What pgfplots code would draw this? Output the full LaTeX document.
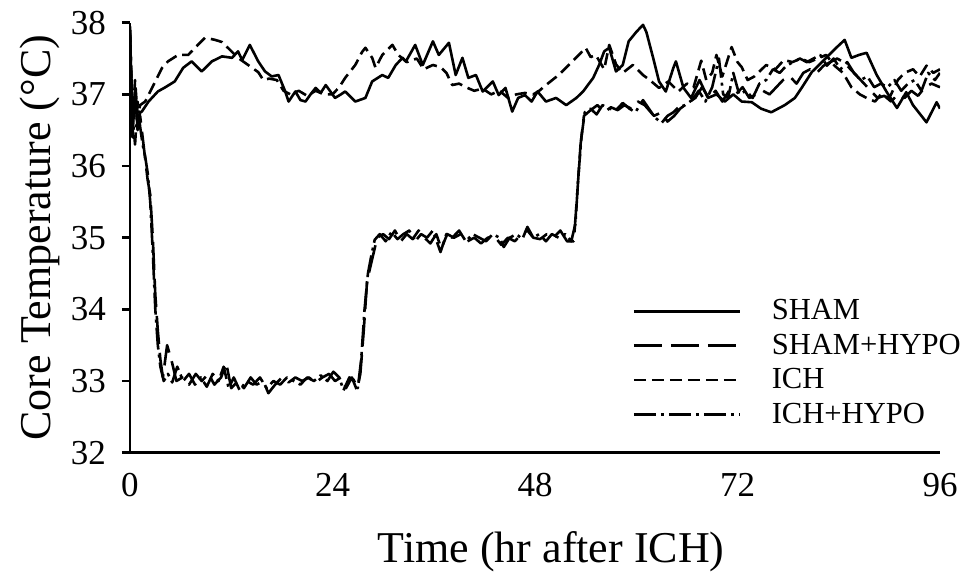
\documentclass[border=0pt]{standalone}
\usepackage{fontspec}
\setmainfont{Liberation Serif}
\usepackage{pgfplots}
\pgfplotsset{compat=1.18}
\begin{document}
\begin{tikzpicture}
\begin{axis}[
  at={(0,0)}, anchor=south west,
  scale only axis, width=405pt, height=215pt,
  xmin=0, xmax=96, ymin=32, ymax=38,
  xtick={0,24,48,72,96}, ytick={32,33,34,35,36,37,38},
  xticklabels={0,24,48,72,96}, yticklabels={32,33,34,35,36,37,38},
  axis x line*=bottom, axis y line*=left,
  axis line style={line width=1.3pt},
  tick align=outside,
  major tick length=4pt,
  y tick style={line width=1.3pt, black},
  x tick style={draw=none},
  tick label style={font=\rmfamily\fontsize{17.5}{20}\selectfont},
  xticklabel style={yshift=-2.7pt},
  yticklabel style={xshift=-4.5pt},
  xlabel={Time (hr after ICH)},
  ylabel={Core Temperature (°C)},
  every axis x label/.style={at={(axis description cs:0.52,-0.23)},anchor=center,font=\fontsize{22}{26}\selectfont},
  every axis y label/.style={at={(axis description cs:-0.111,0.5)},rotate=90,anchor=center,font=\fontsize{22}{26}\selectfont},
  legend style={draw=none, fill=none, inner sep=0pt, at={(axis description cs:0.62,0.37)}, anchor=north west, font=\fontsize{15.3}{18}\selectfont, nodes={inner sep=2.8pt}, /tikz/every odd column/.append style={column sep=12.5pt}},
  legend cell align=left,
  legend image code/.code={\draw[#1] (0pt,0pt) -- (53pt,0pt);},
  every axis plot/.append style={line width=1.3pt, black, line join=round},
]
\addplot[black, solid, mark=none] coordinates {
(0,37.95)(0.3,36.4)(0.6,37.1)(0.9,36.5)(1.2,36.75)(1.4,36.76)(2.2,36.9)(3.3,37.04)(4.2,37.1)(5.3,37.18)
(6.3,37.37)(7.3,37.46)(8.5,37.32)(9.7,37.46)(10.9,37.53)(12.1,37.51)(12.8,37.6)(13.3,37.48)(14.2,37.69)(15.2,37.46)
(16.0,37.32)(16.8,37.25)(17.6,37.27)(18.4,37.04)(18.8,36.9)(19.6,37.04)(20.2,36.92)(20.8,36.9)(21.4,37.0)(22.0,37.09)
(22.6,37.02)(23.2,37.13)(24.3,36.95)(25.0,37.0)(25.5,37.04)(26.7,36.9)(27.9,36.95)(28.7,37.18)(29.9,37.27)(30.6,37.23)
(31.5,37.41)(32.3,37.51)(32.7,37.46)(33.8,37.69)(34.7,37.41)(35.9,37.74)(36.6,37.55)(37.8,37.72)(38.6,37.27)(39.4,37.51)
(40.1,37.23)(41.0,37.27)(41.8,37.04)(43.0,37.18)(43.7,36.99)(44.5,37.09)(45.3,36.76)(46.0,36.95)(46.8,36.99)(47.6,36.9)
(48.3,37.04)(49.3,36.9)(50.5,36.95)(51.7,36.85)(52.9,36.95)(53.7,37.04)(54.9,37.23)(55.6,37.41)(56.2,37.6)(56.8,37.65)
(57.6,37.32)(58.4,37.41)(59.1,37.74)(60.0,37.87)(60.8,37.97)(61.2,37.87)(62.0,37.51)(62.7,37.18)(63.5,37.04)(64.4,37.37)
(64.7,37.46)(65.6,37.09)(66.5,36.95)(67.5,37.2)(68.5,36.95)(69.5,37.0)(70.5,36.9)(71.5,37.0)(72.5,36.9)(73.7,36.89)
(74.8,36.8)(76.0,36.75)(77.6,36.85)(78.8,36.95)(79.6,37.09)(80.8,37.31)(82.0,37.45)(82.5,37.51)(83.7,37.65)(84.7,37.76)
(85.5,37.51)(86.4,37.55)(87.3,37.58)(88.5,37.27)(89.7,37.03)(90.9,36.81)(92.0,37.03)(92.8,36.85)(94.4,36.61)(95.6,36.89)(96,36.8)
};
\addlegendentry{SHAM}
\addplot[black, mark=none, dash pattern=on 14pt off 4.5pt] coordinates {
(0,37.85)(0.3,36.5)(0.6,37.0)(0.9,36.6)(1.2,36.7)(1.5,36.4)(1.8,36.1)(2.1,35.8)(2.4,35.6)(2.7,35.0)
(3.0,34.2)(3.3,33.7)(3.6,33.3)(3.9,33.05)(4.4,33.5)(5.0,33.25)(5.5,33.0)(6.2,33.05)(7.0,32.95)(7.8,33.1)
(8.5,33.0)(9.3,33.1)(10.0,32.95)(10.8,33.05)(11.4,33.25)(12.0,32.9)(12.8,33.0)(13.5,32.9)(14.3,33.05)(15.0,32.95)
(15.8,33.0)(16.4,32.83)(17.2,32.95)(18.0,33.05)(18.8,32.98)(19.6,33.05)(20.4,33.0)(21.2,33.05)(22.0,32.98)(22.8,33.05)
(23.6,33.1)(24.3,33.0)(25.0,33.05)(25.6,32.9)(26.3,33.05)(26.9,32.87)(27.3,33.1)(27.7,33.7)(28.1,34.4)(28.5,34.6)
(28.9,34.8)(29.3,35.0)(30.0,35.05)(30.7,34.98)(31.4,35.1)(32.1,34.95)(32.8,35.05)(33.5,34.98)(34.2,35.1)(34.9,35.0)
(35.6,34.92)(36.3,35.05)(36.9,34.85)(37.6,35.05)(38.4,35.0)(39.2,35.05)(40.0,34.95)(40.8,35.0)(41.6,34.92)(42.4,35.0)
(43.2,35.02)(44.0,34.9)(44.8,35.0)(45.6,34.95)(46.4,35.05)(47.1,35.1)(47.8,35.0)(48.6,34.98)(49.4,35.05)(50.2,35.0)
(51.0,35.1)(51.8,34.95)(52.6,34.95)(53.0,35.6)(53.4,36.3)(53.8,36.7)(54.6,36.78)(55.4,36.85)(56.2,36.75)(57.0,36.82)
(57.8,36.78)(58.6,36.85)(59.4,36.8)(60.2,36.9)(61.0,36.85)(62.1,36.7)(63.0,36.75)(63.7,36.62)(64.5,36.7)(65.2,36.8)
(66.1,36.88)(67.0,36.95)(67.8,37.1)(68.6,36.95)(69.4,37.05)(70.2,36.9)(71.0,37.05)(71.8,37.0)(72.6,37.1)(73.4,36.95)
(74.2,37.0)(75.0,37.05)(75.8,37.0)(76.6,37.1)(77.4,37.2)(78.2,37.25)(79.0,37.15)(79.8,37.3)(80.6,37.35)(81.4,37.3)
(82.2,37.4)(83.0,37.45)(83.8,37.5)(84.6,37.45)(85.4,37.35)(86.2,37.25)(87.0,37.15)(87.8,37.05)(88.6,36.95)(89.4,36.98)
(90.2,36.9)(91.0,37.0)(91.8,36.95)(92.6,37.05)(93.4,36.98)(94.2,37.1)(95.0,37.15)(96.0,37.1)
};
\addlegendentry{SHAM+HYPO}
\addplot[black, mark=none, dash pattern=on 6pt off 3pt] coordinates {
(0,37.9)(0.3,36.6)(0.6,37.2)(0.9,36.7)(1.2,36.85)(1.8,36.9)(3.0,37.18)(3.8,37.37)(4.5,37.46)(5.7,37.55)
(6.9,37.55)(7.7,37.65)(8.9,37.79)(10.1,37.76)(10.9,37.73)(11.6,37.65)(12.8,37.51)(14.0,37.41)(15.2,37.31)(15.8,37.2)
(16.5,37.22)(17.4,37.2)(18.2,37.05)(19.0,37.0)(20.0,37.05)(21.0,36.98)(22.0,37.05)(23.0,37.0)(24.0,37.0)(24.8,37.1)
(25.5,37.23)(26.7,37.41)(27.5,37.59)(27.9,37.65)(28.7,37.51)(29.1,37.37)(29.9,37.55)(31.1,37.69)(31.8,37.55)(32.8,37.45)
(34.0,37.5)(34.8,37.35)(35.9,37.41)(36.8,37.38)(37.5,37.3)(38.2,37.13)(39.0,37.15)(39.8,37.1)(40.8,37.05)(41.8,37.08)
(42.8,37.0)(43.8,37.05)(44.8,36.95)(45.8,37.0)(46.8,37.02)(47.8,37.0)(48.5,37.05)(49.3,37.13)(50.8,37.27)(52.0,37.41)
(53.2,37.55)(54.0,37.65)(54.6,37.52)(55.2,37.55)(56.2,37.35)(56.8,37.69)(57.6,37.42)(58.4,37.3)(59.6,37.41)(60.8,37.27)
(61.6,37.2)(62.7,37.09)(63.8,37.18)(65.0,37.04)(66.0,37.15)(66.8,37.1)(67.7,37.47)(68.3,37.2)(69.0,37.3)(69.5,37.55)
(70.2,37.25)(71.3,37.66)(72.0,37.45)(72.5,37.38)(73.2,37.2)(74.0,37.25)(75.4,37.41)(76.5,37.35)(77.5,37.48)(78.5,37.45)
(79.5,37.5)(80.5,37.45)(81.5,37.5)(82.5,37.55)(83.5,37.4)(84.5,37.3)(85.5,37.1)(86.5,37.0)(87.3,36.95)(88.3,36.9)
(89.0,37.0)(90.0,36.95)(91.0,37.2)(91.8,37.3)(92.8,37.35)(93.6,37.25)(94.4,37.4)(95.2,37.3)(96.0,37.35)
};
\addlegendentry{ICH}
\addplot[black, mark=none, dash pattern=on 11pt off 2.5pt on 1.5pt off 2.5pt] coordinates {
(0,37.9)(0.3,36.7)(0.6,36.3)(0.9,36.9)(1.2,36.55)(1.5,36.3)(1.8,36.13)(2.1,35.9)(2.4,35.5)(2.7,34.8)
(3.0,34.0)(3.3,33.5)(3.6,33.2)(4.0,33.0)(4.5,33.1)(5.0,32.98)(5.6,33.2)(6.3,33.0)(7.0,33.1)(7.7,32.95)
(8.4,33.05)(9.1,32.92)(9.8,33.1)(10.5,33.0)(11.1,33.2)(11.7,32.9)(12.3,33.05)(13.0,32.87)(13.8,33.0)(14.6,32.95)
(15.4,33.05)(16.2,32.9)(17.0,33.0)(17.8,32.95)(18.6,33.05)(19.4,33.0)(20.2,32.95)(21.0,33.05)(21.8,33.0)(22.6,33.08)
(23.4,33.0)(24.1,33.13)(24.8,33.05)(25.3,32.87)(26.0,33.05)(26.5,33.02)(27.0,32.9)(27.4,33.3)(27.8,34.0)(28.2,34.5)
(28.6,34.75)(29.0,34.97)(29.6,35.05)(30.3,34.95)(31.0,35.08)(31.7,34.98)(32.4,35.05)(33.1,35.1)(33.8,34.95)(34.5,35.05)
(35.2,35.0)(35.9,35.1)(36.8,34.8)(37.5,35.05)(38.2,35.0)(39.0,35.1)(39.8,34.95)(40.6,35.05)(41.4,35.0)(42.2,34.95)
(43.0,35.05)(43.8,35.0)(44.3,34.87)(45.0,35.0)(45.8,35.05)(46.5,34.98)(47.1,35.15)(47.8,35.0)(48.5,35.05)(49.3,34.95)
(50.0,35.05)(50.8,35.0)(51.6,35.05)(52.3,34.95)(52.8,35.2)(53.1,35.8)(53.5,36.4)(53.9,36.75)(54.6,36.8)(55.3,36.72)
(56.0,36.85)(56.8,36.8)(57.6,36.78)(58.4,36.88)(59.2,36.8)(59.9,36.75)(60.8,36.92)(61.5,36.8)(62.2,36.68)(63.0,36.6)
(63.7,36.7)(64.4,36.75)(65.0,36.82)(65.8,36.85)(66.6,36.92)(67.4,37.05)(68.2,36.9)(69.0,37.1)(69.8,37.5)(70.3,37.0)
(70.9,36.95)(71.5,37.3)(72.2,37.0)(73.0,37.05)(73.8,36.95)(74.6,37.15)(75.4,37.2)(76.2,37.35)(77.0,37.3)(77.8,37.4)
(78.6,37.45)(79.4,37.5)(80.2,37.45)(81.0,37.5)(81.8,37.55)(82.6,37.4)(83.4,37.5)(84.2,37.35)(85.0,37.45)(85.8,37.3)
(86.6,37.2)(87.4,37.25)(88.2,37.1)(89.0,37.15)(89.8,37.1)(90.6,37.2)(91.4,37.05)(92.2,37.15)(93.0,37.2)(93.8,37.05)
(94.6,37.3)(95.4,37.2)(96.0,37.3)
};
\addlegendentry{ICH+HYPO}
\end{axis}
\pgfresetboundingbox
\path (-65pt,-61.5pt) rectangle (420.5pt,226.35pt);
\end{tikzpicture}
\end{document}
